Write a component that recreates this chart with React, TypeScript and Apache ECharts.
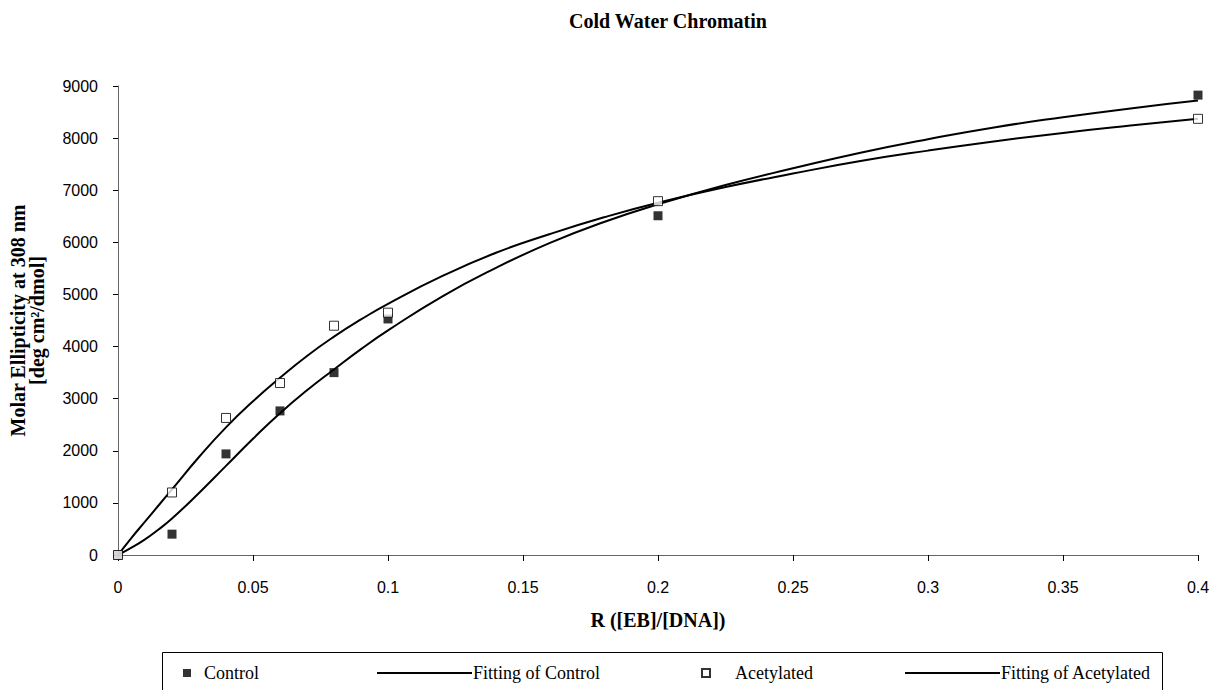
import React, { useEffect, useRef } from "react";
import * as echarts from "echarts";

// Measured data points
const controlPoints: [number, number][] = [
  [0, 0], [0.02, 400], [0.04, 1940], [0.06, 2765], [0.08, 3500], [0.1, 4530], [0.2, 6510], [0.4, 8825],
];
const acetylatedPoints: [number, number][] = [
  [0, 0], [0.02, 1200], [0.04, 2630], [0.06, 3300], [0.08, 4400], [0.1, 4650], [0.2, 6790], [0.4, 8370],
];

// Fitted curves
const fitR = [0, 0.005, 0.01, 0.015, 0.02, 0.03, 0.04, 0.05, 0.06, 0.07, 0.08, 0.09, 0.1, 0.12, 0.14, 0.16, 0.18, 0.2, 0.225, 0.25, 0.275, 0.3, 0.325, 0.35, 0.375, 0.4];
const fitControl = [0, 140, 300, 490, 700, 1190, 1710, 2230, 2720, 3160, 3560, 3950, 4310, 4960, 5510, 5990, 6390, 6730, 7100, 7420, 7720, 7980, 8210, 8400, 8570, 8720];
const fitAcetylated = [0, 330, 640, 950, 1260, 1880, 2450, 2950, 3400, 3820, 4190, 4520, 4820, 5350, 5800, 6160, 6480, 6760, 7060, 7320, 7560, 7760, 7940, 8100, 8240, 8370];

const xTicks = { min: 0, max: 0.4, interval: 0.05 };
const yTicks = { min: 0, max: 9000, interval: 1000 };

const serif = "'Liberation Serif', 'Times New Roman', serif";
const sans = "'Liberation Sans', Arial, sans-serif";

export default function App() {
  const ref = useRef<HTMLDivElement>(null);
  useEffect(() => {
    if (!ref.current) return;
    const chart = echarts.init(ref.current, undefined, { renderer: "svg" });
    const legendText = { fontFamily: serif, fontSize: 18, color: "#000" };
    chart.setOption({
      animation: false,
      backgroundColor: "#fff",
      title: {
        text: "Cold Water Chromatin",
        left: 663,
        textAlign: "center",
        top: 6,
        textStyle: { fontFamily: serif, fontWeight: "bold", fontSize: 20, color: "#000" },
      },
      grid: { left: 118, right: 26, top: 86, bottom: 135, containLabel: false, outerBoundsMode: "none" },
      xAxis: {
        type: "value",
        min: xTicks.min,
        max: xTicks.max,
        interval: xTicks.interval,
        name: "R ([EB]/[DNA])",
        nameLocation: "middle",
        nameGap: 55,
        nameTextStyle: { fontFamily: serif, fontWeight: "bold", fontSize: 20, color: "#000" },
        axisLine: { show: true, lineStyle: { color: "#666", width: 1 } },
        axisTick: { show: true, length: 6, lineStyle: { color: "#000" } },
        axisLabel: {
          margin: 24,
          fontFamily: sans,
          fontSize: 16,
          color: "#000",
          formatter: (v: number) => String(+v.toFixed(2)),
        },
        splitLine: { show: false },
      },
      yAxis: {
        type: "value",
        min: yTicks.min,
        max: yTicks.max,
        interval: yTicks.interval,
        name: "Molar Ellipticity at 308 nm\n[deg cm²/dmol]",
        nameLocation: "middle",
        nameGap: 72,
        nameTextStyle: { fontFamily: serif, fontWeight: "bold", fontSize: 20, color: "#000", lineHeight: 19 },
        axisLine: { show: true, lineStyle: { color: "#666", width: 1 } },
        axisTick: { show: true, length: 5, lineStyle: { color: "#000" } },
        axisLabel: {
          margin: 20,
          fontFamily: sans,
          fontSize: 16,
          color: "#000",
          formatter: (v: number) => String(v),
        },
        splitLine: { show: false },
      },
      legend: [
        {
          data: [{ name: "Control", icon: "rect" }],
          left: 178, top: 659, itemWidth: 8, itemHeight: 8,
          textStyle: { ...legendText, padding: [0, 0, 0, 8] },
        },
        {
          data: [{ name: "Fitting of Control", icon: "rect" }],
          left: 372, top: 659, itemWidth: 95, itemHeight: 2,
          textStyle: { ...legendText, padding: [0, 0, 0, -4] },
        },
        {
          data: [{ name: "Acetylated", icon: "rect" }],
          left: 696, top: 659, itemWidth: 8, itemHeight: 8,
          textStyle: { ...legendText, padding: [0, 0, 0, 20] },
        },
        {
          data: [{ name: "Fitting of Acetylated", icon: "rect" }],
          left: 900, top: 659, itemWidth: 95, itemHeight: 2,
          textStyle: { ...legendText, padding: [0, 0, 0, -4] },
        },
      ],
      graphic: [
        {
          type: "rect",
          shape: { x: 162.5, y: 652.5, width: 1000, height: 50 },
          style: { fill: "none", stroke: "#000", lineWidth: 1 },
          silent: true,
        },
      ],
      series: [
        {
          name: "Fitting of Control",
          type: "line",
          data: fitR.map((r, i) => [r, fitControl[i]]),
          smooth: true,
          symbol: "none",
          lineStyle: { color: "#000", width: 2 },
          itemStyle: { color: "#000" },
          z: 2,
        },
        {
          name: "Fitting of Acetylated",
          type: "line",
          data: fitR.map((r, i) => [r, fitAcetylated[i]]),
          smooth: true,
          symbol: "none",
          lineStyle: { color: "#000", width: 2 },
          itemStyle: { color: "#000" },
          z: 2,
        },
        {
          name: "Control",
          type: "scatter",
          data: controlPoints,
          symbol: "rect",
          symbolSize: 9,
          itemStyle: { color: "#000" },
          z: 5,
        },
        {
          name: "Acetylated",
          type: "scatter",
          data: acetylatedPoints,
          symbol: "rect",
          symbolSize: 9,
          itemStyle: { color: "#fff", borderColor: "#000", borderWidth: 1 },
          z: 5,
        },
      ],
    });
    return () => chart.dispose();
  }, []);
  return (
    <div
      ref={ref}
      style={{ position: "fixed", left: 0, top: 0, width: 1224, height: 690, background: "#fff" }}
    />
  );
}
